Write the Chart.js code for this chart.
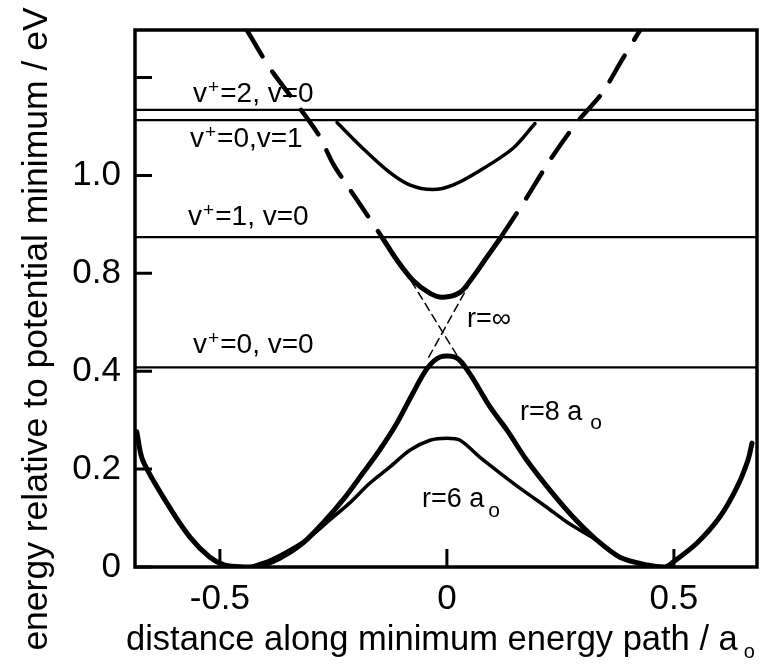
<!DOCTYPE html>
<html>
<head>
<meta charset="utf-8">
<script src="https://cdn.jsdelivr.net/npm/chart.js@4.4.1/dist/chart.umd.min.js"></script>
<style>
  html, body { margin: 0; padding: 0; background: #fff; }
  #wrap { width: 768px; height: 665px; position: relative; }
</style>
</head>
<body>
<div id="wrap"><canvas id="pesChart"></canvas></div>
<script>
// axis range (plot units)
const X_MIN = -0.687, X_MAX = 0.683;
const Y_MIN = 0, Y_MAX = 1.097;

// tick positions and the labels printed at them (as in the original figure)
const xTickValues = [-0.5, 0, 0.5];
const xTickLabels = ['-0.5', '0', '0.5'];
const yTickValues = [0, 0.2, 0.4, 0.6, 0.8, 1.0];
const yTickLabels = ['0', '0.2', '0.4', '0.8', '1.0', ''];

// vibrational levels (horizontal lines)
const levelY = [0.934, 0.913, 0.674, 0.408];

// r = 8 a0 lower curve, including outer walls
const r8X = [-0.683, -0.670, -0.617, -0.566, -0.522, -0.489, -0.445, -0.419, -0.368, -0.317, -0.273, -0.229,
             -0.185, -0.148, -0.110, -0.075, -0.044, -0.015, 0.022, 0.051, 0.095, 0.132, 0.176, 0.227,
             0.278, 0.330, 0.381, 0.441, 0.480, 0.498, 0.551, 0.601, 0.639, 0.663, 0.672];
const r8Y = [0.276, 0.218, 0.131, 0.061, 0.020, 0.004, 0.000, 0.000, 0.018, 0.049, 0.090, 0.137,
             0.192, 0.239, 0.294, 0.355, 0.405, 0.429, 0.427, 0.394, 0.327, 0.280, 0.218, 0.157,
             0.102, 0.055, 0.020, 0.004, 0.000, 0.010, 0.049, 0.102, 0.163, 0.218, 0.253];

// r = 6 a0 lower curve
const r6X = [-0.434, -0.390, -0.346, -0.302, -0.258, -0.214, -0.170, -0.126, -0.081, -0.037, 0.000, 0.029,
             0.073, 0.117, 0.167, 0.220, 0.264, 0.330];
const r6Y = [0.000, 0.014, 0.035, 0.061, 0.096, 0.131, 0.171, 0.204, 0.239, 0.259, 0.263, 0.259,
             0.224, 0.192, 0.157, 0.122, 0.092, 0.055];

// upper adiabatic curve (around 1.0 label)
const upX = [-0.242, -0.185, -0.126, -0.081, -0.031, 0.013, 0.073, 0.145, 0.194];
const upY = [0.908, 0.855, 0.806, 0.780, 0.771, 0.780, 0.810, 0.855, 0.906];

// r = 8 a0 upper curve near the crossing
const vX = [-0.141, -0.110, -0.075, -0.037, -0.009, 0.029, 0.057, 0.088, 0.117];
const vY = [0.671, 0.627, 0.586, 0.559, 0.551, 0.561, 0.592, 0.633, 0.671];

// long-dash diabatic curves
const ldX = [-0.440, -0.405, -0.383, -0.284, -0.251, -0.220, -0.187, -0.141];
const ldY = [1.096, 1.041, 1.010, 0.885, 0.824, 0.780, 0.735, 0.671];
const rdX = [0.117, 0.172, 0.227, 0.286, 0.341, 0.385, 0.421, 0.425];
const rdY = [0.671, 0.749, 0.831, 0.908, 0.967, 1.035, 1.090, 1.096];

// r = infinity thin dashed crossing lines
const infAX = [-0.093, 0.029];
const infAY = [0.606, 0.422];
const infBX = [0.066, -0.044];
const infBY = [0.606, 0.422];

const FONT = '"Liberation Sans", Arial, Helvetica, sans-serif';

const pts = (xs, ys) => xs.map((x, i) => ({ x: x, y: ys[i] }));

const line = (data, width, dash) => ({
    data: data,
    showLine: true,
    borderColor: '#000',
    borderWidth: width,
    borderDash: dash || [],
    borderCapStyle: 'round',
    borderJoinStyle: 'round',
    pointRadius: 0,
    tension: 0.3,
    fill: false
});

const datasets = [];
levelY.forEach(y => datasets.push(line(pts([X_MIN, X_MAX], [y, y]), 2.2)));
datasets.push(line(pts(r8X, r8Y), 5));
datasets.push(line(pts(r6X, r6Y), 3.5));
datasets.push(line(pts(upX, upY), 3.5));
datasets.push(line(pts(vX, vY), 5));
datasets.push(line(pts(ldX, ldY), 4.5, [30, 18]));
datasets.push(line(pts(rdX, rdY), 4.5, [30, 18]));
datasets.push(line(pts(infAX, infAY), 1.5, [8, 5]));
datasets.push(line(pts(infBX, infBY), 1.5, [8, 5]));

// frame, inward ticks, titles and labels
const decorations = {
    id: 'decorations',
    afterDraw(chart) {
        const ctx = chart.ctx;
        const a = chart.chartArea;
        const sx = chart.scales.x, sy = chart.scales.y;
        ctx.save();
        ctx.strokeStyle = '#000';
        ctx.fillStyle = '#000';

        // frame
        ctx.lineWidth = 3.5;
        ctx.strokeRect(a.left, a.top, a.right - a.left, a.bottom - a.top);

        // inward ticks
        ctx.lineWidth = 3;
        ctx.beginPath();
        sy.ticks.forEach(t => {
            const py = sy.getPixelForValue(t.value);
            ctx.moveTo(a.left, py);
            ctx.lineTo(a.left + 17, py);
        });
        sx.ticks.forEach(t => {
            const px = sx.getPixelForValue(t.value);
            ctx.moveTo(px, a.bottom);
            ctx.lineTo(px, a.bottom - 18);
        });
        ctx.stroke();

        // axis titles
        ctx.textBaseline = 'alphabetic';
        ctx.font = '34.5px ' + FONT;
        ctx.textAlign = 'left';
        const xt = 'distance along minimum energy path / a';
        ctx.fillText(xt, 126, 650);
        const xw = ctx.measureText(xt).width;
        ctx.font = '20px ' + FONT;
        ctx.fillText('o', 126 + xw + 6, 658);

        ctx.save();
        ctx.translate(47, 329);
        ctx.rotate(-Math.PI / 2);
        ctx.font = '35.5px ' + FONT;
        ctx.textAlign = 'center';
        ctx.fillText('energy relative to potential minimum / eV', 0, 0);
        ctx.restore();

        // level labels with superscript +
        const level = (xv, yv, rest) => {
            const x = sx.getPixelForValue(xv), y = sy.getPixelForValue(yv);
            ctx.font = '28px ' + FONT;
            ctx.fillText('v', x, y);
            let w = ctx.measureText('v').width + 1;
            ctx.font = '19px ' + FONT;
            ctx.fillText('+', x + w, y - 9);
            w += ctx.measureText('+').width + 1;
            ctx.font = '28px ' + FONT;
            ctx.fillText(rest, x + w, y);
        };
        level(-0.559, 0.949, '=2, v=0');
        level(-0.566, 0.857, '=0,v=1');
        level(-0.570, 0.698, '=1, v=0');
        level(-0.559, 0.437, '=0, v=0');

        // curve labels
        const rlab = (xv, yv, text, sub, gap, drop) => {
            const x = sx.getPixelForValue(xv), y = sy.getPixelForValue(yv);
            ctx.font = '27px ' + FONT;
            ctx.fillText(text, x, y);
            if (sub) {
                const w = ctx.measureText(text).width;
                ctx.font = '21px ' + FONT;
                ctx.fillText(sub, x + w + gap, y + drop);
            }
        };
        rlab(0.044, 0.490, 'r=\u221E');
        rlab(0.161, 0.300, 'r=8 a', 'o', 8, 9);
        rlab(-0.055, 0.122, 'r=6 a', 'o', 4, 10);

        ctx.restore();
    }
};

new Chart(document.getElementById('pesChart').getContext('2d'), {
    type: 'scatter',
    data: { datasets: datasets },
    options: {
        responsive: true,
        maintainAspectRatio: false,
        animation: false,
        layout: { padding: { top: 30, right: 11, left: 0, bottom: 0 } },
        plugins: { legend: { display: false }, tooltip: { enabled: false } },
        scales: {
            x: {
                type: 'linear',
                min: X_MIN,
                max: X_MAX,
                afterBuildTicks: s => { s.ticks = xTickValues.map(v => ({ value: v })); },
                afterFit: s => { s.height = 98; s.paddingLeft = 0; s.paddingRight = 0; },
                ticks: {
                    callback: (v, i) => xTickLabels[i],
                    autoSkip: false,
                    maxRotation: 0,
                    padding: 11,
                    color: '#000',
                    font: { family: FONT, size: 35 }
                },
                grid: { display: false, drawTicks: false },
                border: { display: false }
            },
            y: {
                type: 'linear',
                min: Y_MIN,
                max: Y_MAX,
                afterBuildTicks: s => { s.ticks = yTickValues.map(v => ({ value: v })); },
                afterFit: s => { s.width = 135; s.paddingTop = 0; s.paddingBottom = 0; },
                ticks: {
                    callback: (v, i) => yTickLabels[i],
                    autoSkip: false,
                    padding: 14,
                    color: '#000',
                    font: { family: FONT, size: 35 }
                },
                grid: { display: false, drawTicks: false },
                border: { display: false }
            }
        }
    },
    plugins: [decorations]
});
</script>
</body>
</html>
